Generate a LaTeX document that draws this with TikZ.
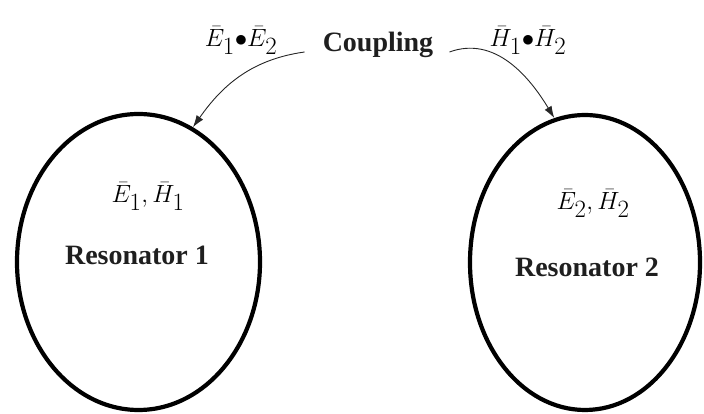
\documentclass[tikz,border=0pt]{standalone}
\usepackage{fontspec}
\setmainfont{Liberation Serif}
\usetikzlibrary{shapes.geometric,arrows.meta}
\begin{document}
\begin{tikzpicture}[x=1pt,y=1pt,
  reso/.style={draw,ellipse,line width=4.2pt,inner sep=0pt},
  lbl/.style={font=\fontsize{28}{32}\selectfont\bfseries,text=black!88,inner sep=0pt,anchor=base},
  fld/.style={font=\fontsize{33}{38}\selectfont,inner sep=0pt,anchor=base},
  conn/.style={line width=0.9pt,black!85,-{Latex[length=12pt,width=8pt]}}]
\useasboundingbox (0,0) rectangle (704,414);
\node[reso,minimum width=243pt,minimum height=296pt] (r1) at (138.5,152) {};
\node[reso,minimum width=230pt,minimum height=295pt] (r2) at (585,151.5) {};
\node[lbl] (n1) at (137,149) {Resonator 1};
\node[lbl] (n2) at (587,137) {Resonator 2};
\node[fld] (f1) at (148,211) {$\bar{E}_1,\bar{H}_1$};
\node[fld] (f2) at (593,204) {$\bar{E}_2,\bar{H}_2$};
\node[lbl] (cp) at (378,362) {Coupling};
\node[fld] (ee) at (241,367) {$\bar{E}_1\mathord{\bullet}\bar{E}_2$};
\node[fld] (hh) at (528,367) {$\bar{H}_1\mathord{\bullet}\bar{H}_2$};
\draw[conn] ([xshift=-18pt]cp.base west) to[out=188,in=55] (r1.68);
\draw[conn] ([xshift=16pt]cp.base east) to[out=20,in=121] (r2.102);
\end{tikzpicture}
\end{document}
